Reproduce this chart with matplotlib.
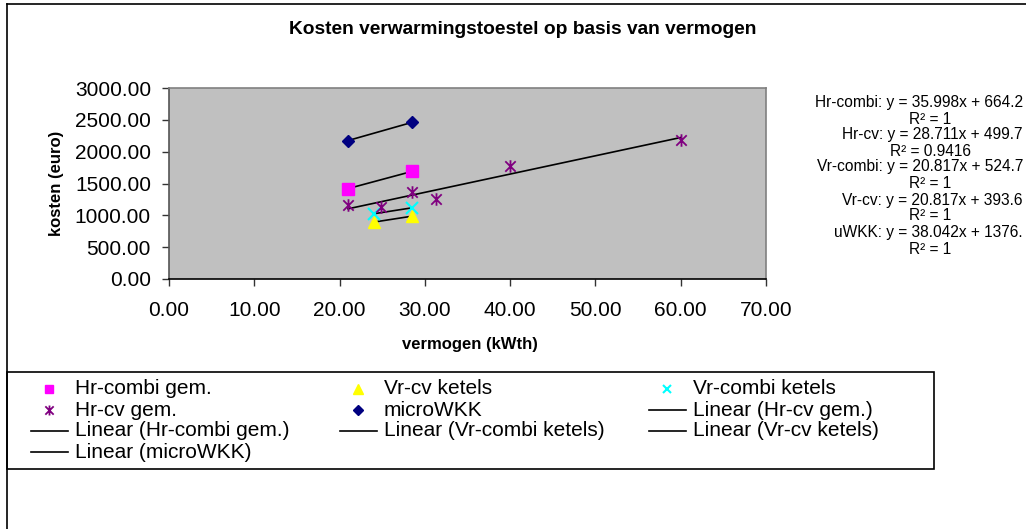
import matplotlib
matplotlib.use("Agg")
import matplotlib.pyplot as plt
from matplotlib.lines import Line2D
from matplotlib.patches import Rectangle
from matplotlib.path import Path

plt.rcParams["font.family"] = ["Liberation Sans", "DejaVu Sans"]

# power (kWth) and cost (euro) per group
hr_combi_x = [21.0, 28.5]
hr_combi_y = [1420.2, 1690.1]
vr_cv_x = [24.0, 28.5]
vr_cv_y = [893.2, 986.9]
vr_combi_x = [24.0, 28.5]
vr_combi_y = [1024.3, 1118.0]
hr_cv_x = [21.0, 24.9, 28.5, 31.3, 40.0, 60.0]
hr_cv_y = [1170, 1135, 1360, 1260, 1780, 2185]
wkk_x = [21.0, 28.5]
wkk_y = [2175.0, 2460.0]

# linear trendlines: (slope, intercept, r2)
trend_names = ["Hr-combi", "Hr-cv", "Vr-combi", "Vr-cv", "uWKK"]
trend_slope = [35.998, 28.711, 20.817, 20.817, 38.042]
trend_icept = [664.2, 499.7, 524.7, 393.6, 1376.0]
trend_r2 = ["1", "0.9416", "1", "1", "1"]
trend_x = [hr_combi_x, hr_cv_x, vr_combi_x, vr_cv_x, wkk_x]
trend_eq = ["35.998x + 664.2", "28.711x + 499.7", "20.817x + 524.7",
            "20.817x + 393.6", "38.042x + 1376."]

W, H = 1026, 529


def fx(x):
    return x / W


def fy(y):
    return 1 - y / H


# excel style asterisk: an x with a vertical bar
star = Path([(-1, -1), (1, 1), (-1, 1), (1, -1), (0, -1.2), (0, 1.2)],
            [Path.MOVETO, Path.LINETO, Path.MOVETO, Path.LINETO,
             Path.MOVETO, Path.LINETO])

styles = {
    "Hr-combi gem.": dict(marker="s", color="#FF00FF", ms=8, mec="#FF00FF"),
    "Vr-cv ketels": dict(marker="^", color="#FFFF00", ms=9, mec="#FFFF00"),
    "Vr-combi ketels": dict(marker="x", color="#00FFFF", ms=8, mew=1.5),
    "Hr-cv gem.": dict(marker=star, color="#800080", ms=9, mew=1.3),
    "microWKK": dict(marker="D", color="#000080", ms=6.5, mec="#000080"),
}

fig = plt.figure(figsize=(W / 100, H / 100), dpi=100)
fig.patch.set_facecolor("white")

ax = fig.add_axes((fx(169), fy(279), fx(766) - fx(169), fy(88) - fy(279)))
ax.set_facecolor("#C0C0C0")

series = [
    ("Hr-combi gem.", hr_combi_x, hr_combi_y),
    ("Vr-cv ketels", vr_cv_x, vr_cv_y),
    ("Vr-combi ketels", vr_combi_x, vr_combi_y),
    ("Hr-cv gem.", hr_cv_x, hr_cv_y),
    ("microWKK", wkk_x, wkk_y),
]
for name, xs, ys in series:
    ax.plot(xs, ys, linestyle="none", zorder=3, **styles[name])

for xs, a, b in zip(trend_x, trend_slope, trend_icept):
    x0, x1 = min(xs), max(xs)
    ax.plot([x0, x1], [a * x0 + b, a * x1 + b], color="black", lw=1.2, zorder=2)

ax.set_xlim(0, 70)
ax.set_ylim(0, 3000)
ax.set_xticks(range(0, 71, 10))
ax.set_yticks(range(0, 3001, 500))
ax.xaxis.set_major_formatter(matplotlib.ticker.FormatStrFormatter("%.2f"))
ax.yaxis.set_major_formatter(matplotlib.ticker.FormatStrFormatter("%.2f"))
ax.tick_params(axis="both", direction="out", length=5, width=1,
               color="#333333", labelsize=15)
ax.tick_params(axis="x", pad=11)
ax.tick_params(axis="y", pad=8)
ax.spines["top"].set_color("#808080")
ax.spines["right"].set_color("#808080")
ax.spines["left"].set_color("#555555")
ax.spines["bottom"].set_color("black")
for s in ax.spines.values():
    s.set_linewidth(1.2)

fig.text(fx(523), fy(30), "Kosten verwarmingstoestel op basis van vermogen",
         ha="center", va="center", fontsize=13.8, fontweight="bold")
fig.text(fx(470), fy(345), "vermogen (kWth)", ha="center", va="center",
         fontsize=12, fontweight="bold")
fig.text(fx(57), fy(183), "kosten (euro)", ha="center", va="center",
         rotation=90, fontsize=12, fontweight="bold")

# trendline equations on the right
eq_y = [103, 135, 167, 200, 233]
r2_y = [119, 151, 184, 216, 249]
for name, eq, r2, ye, yr in zip(trend_names, trend_eq, trend_r2, eq_y, r2_y):
    fig.text(fx(1023), fy(ye), f"{name}: y = {eq}", ha="right", va="center",
             fontsize=11.2)
    fig.text(fx(930), fy(yr), f"R\u00b2 = {r2}", ha="center", va="center",
             fontsize=11.2)

# chart frame
fig.add_artist(Line2D([fx(7), 1], [fy(4), fy(4)], color="black", lw=1.2))
fig.add_artist(Line2D([fx(7), fx(7)], [0, fy(4)], color="black", lw=1.2))

# legend box, filled row by row in three columns
fig.add_artist(Rectangle((fx(7), fy(469)), fx(934) - fx(7), fy(372) - fy(469),
                         transform=fig.transFigure, fill=False,
                         edgecolor="black", lw=1.2))
legend_items = [
    ("Hr-combi gem.", "Hr-combi gem."),
    ("Vr-cv ketels", "Vr-cv ketels"),
    ("Vr-combi ketels", "Vr-combi ketels"),
    ("Hr-cv gem.", "Hr-cv gem."),
    ("microWKK", "microWKK"),
    (None, "Linear (Hr-cv gem.)"),
    (None, "Linear (Hr-combi gem.)"),
    (None, "Linear (Vr-combi ketels)"),
    (None, "Linear (Vr-cv ketels)"),
    (None, "Linear (microWKK)"),
]
row_y = [389, 410, 431, 452]
col_x = [49, 358, 667]
for i, (key, label) in enumerate(legend_items):
    cx = col_x[i % 3]
    ry = fy(row_y[i // 3])
    if key is None:
        fig.add_artist(Line2D([fx(cx - 18), fx(cx + 19)], [ry, ry],
                              color="black", lw=1.2))
    else:
        st = dict(styles[key])
        st["ms"] = st["ms"] * 0.8
        fig.add_artist(Line2D([fx(cx)], [ry], linestyle="none", **st))
    fig.text(fx(cx + 26), ry, label, ha="left", va="center", fontsize=15)

fig.savefig("out.png", dpi=100)
